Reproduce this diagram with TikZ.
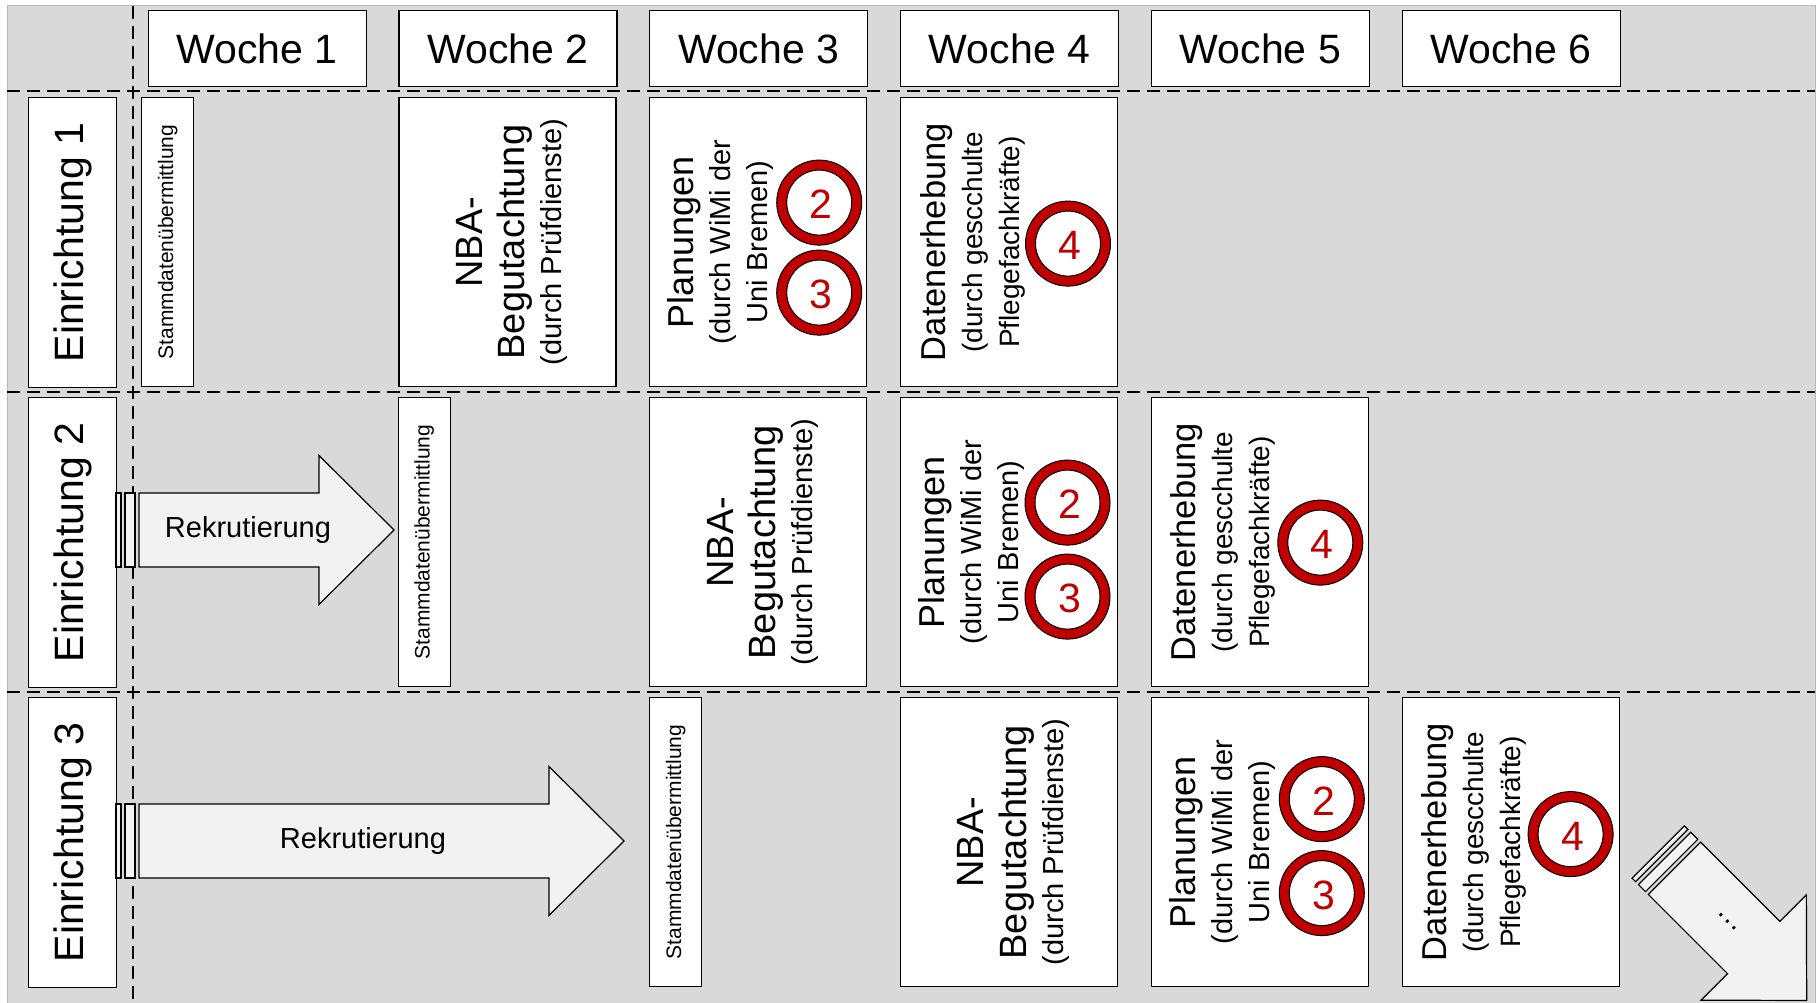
\documentclass[tikz,border=0pt]{standalone}
\usepackage{fontspec}
\setmainfont{Liberation Sans}
\usetikzlibrary{calc}

\definecolor{hintergrund}{HTML}{D9D9D9}
\definecolor{pfeilgrau}{HTML}{F2F2F2}
\definecolor{ringrot}{HTML}{C00000}

\newcommand{\schrift}[1]{\fontsize{#1}{37}\selectfont}

\tikzset{
  kasten/.style={draw, line width=1.2pt, fill=white, inner sep=0pt, anchor=north west},
  aufgabe/.style={kasten, minimum width=217pt, minimum height=289pt},
  schmal/.style={kasten, minimum width=52pt, minimum height=289pt},
  trenner/.style={line width=1.5pt, dash pattern=on 13pt off 7pt},
  pfeilform/.style={draw, line width=1.2pt, fill=pfeilgrau},
  beschriftung/.style={rotate=90, align=center, inner sep=0pt, font=\schrift{29}},
}

% Ring mit Nummer: Name, Lage, Zahl
\newcommand{\kreis}[3]{%
  \coordinate (#1) at #2;
  \draw[line width=1pt, fill=ringrot, even odd rule]
    (#1) circle[radius=42.5pt] circle[radius=32.5pt];
  \node[text=ringrot, font=\schrift{41}, inner sep=0pt] (#1zahl)
    at ([shift={(2,2)}]#1) {#3};}

% Blockpfeil: Name, Start, Drehung, Laenge, Text
\newcommand{\rekpfeil}[5]{%
  \begin{scope}[shift={#2}, rotate=#3]
    \draw[pfeilform] (0,-37) rectangle (5,37);
    \draw[pfeilform] (9,-37) rectangle (19,37);
    \draw[pfeilform] (23,-37) -- ({#4-75},-37) -- ({#4-75},-74.5) -- (#4,0)
      -- ({#4-75},74.5) -- ({#4-75},37) -- (23,37) -- cycle;
    \node[font=\schrift{29}, rotate=#3, inner sep=0pt] (#1) at ({#4/2-7},0) {#5};
  \end{scope}}

\begin{document}
\begin{tikzpicture}[x=1pt, y=-1pt]
\useasboundingbox (0,0) rectangle (1819,1003);
\fill[white] (0,0) rectangle (1819,1003);
\draw[fill=hintergrund, draw=gray!55, line width=1pt] (7,6) rectangle (1815,1012);

% Trennlinien
\draw[trenner] (133,6) -- (133,1003);
\foreach \y in {91,392,692}
  \draw[trenner] (7,\y) -- (1815,\y);

% Kopfzeile
\foreach \w in {1,...,6}
  \node[kasten, minimum width=218pt, minimum height=76pt, font=\schrift{41}]
    (woche\w) at ({147.5+250.8*(\w-1)},10) {Woche \w};

% Einrichtungen
\foreach \e in {1,2,3} {
  \node[kasten, minimum width=88pt, minimum height=290pt] (einr\e) at (28,{97+300*(\e-1)}) {};
  \node[beschriftung, font=\schrift{41}] (einrtext\e) at (einr\e.center) {Einrichtung \e};
}

% Stammdaten
\node[schmal] (stamm1) at (141,97) {};
\node[schmal] (stamm2) at (397.5,397) {};
\node[schmal] (stamm3) at (649,697) {};

% NBA, Planungen, Datenerhebung
\node[aufgabe] (nba1) at (398.3,97) {};
\node[aufgabe] (nba2) at (649.1,397) {};
\node[aufgabe] (nba3) at (899.9,697) {};
\node[aufgabe] (plan1) at (649.1,97) {};
\node[aufgabe] (plan2) at (899.9,397) {};
\node[aufgabe] (plan3) at (1150.7,697) {};
\node[aufgabe] (daten1) at (899.9,97) {};
\node[aufgabe] (daten2) at (1150.7,397) {};
\node[aufgabe] (daten3) at (1401.5,697) {};

\foreach \n in {1,2,3} {
  \node[beschriftung, font=\schrift{21}] (stammtext\n) at (stamm\n.center) {Stammdatenübermittlung};
  \node[beschriftung] (nbatext\n) at ([xshift=4.5pt]nba\n.center)
    {\schrift{38}NBA-\\[5.5pt]\schrift{38}Begutachtung\\\schrift{29}(durch Prüfdienste)};
  \node[beschriftung] (plantext\n) at ([xshift=-37.5pt]plan\n.center)
    {\schrift{36}Planungen\\\schrift{29}(durch WiMi der\\\schrift{29}Uni Bremen)};
  \node[beschriftung] (datentext\n) at ([xshift=-36.5pt]daten\n.center)
    {\schrift{34.5}Datenerhebung\\\schrift{28}(durch gescchulte\\\schrift{28}Pflegefachkräfte)};
}

% Ringe
\kreis{ring2a}{($(plan1.center)+(61,-39.5)$)}{2}
\kreis{ring3a}{($(plan1.center)+(61,50.5)$)}{3}
\kreis{ring4a}{($(daten1.center)+(59,1.5)$)}{4}
\kreis{ring2b}{($(plan2.center)+(58.5,-39.5)$)}{2}
\kreis{ring3b}{($(plan2.center)+(58.5,54.5)$)}{3}
\kreis{ring4b}{($(daten2.center)+(60.5,0.5)$)}{4}
\kreis{ring2c}{($(plan3.center)+(62,-43)$)}{2}
\kreis{ring3c}{($(plan3.center)+(62,51)$)}{3}
\kreis{ring4c}{($(daten3.center)+(60,-8)$)}{4}

% Rekrutierung
\rekpfeil{rek2}{(116,530)}{0}{278}{Rekrutierung}
\rekpfeil{rek3}{(116,841)}{0}{508}{Rekrutierung}
\rekpfeil{weiter}{(1658.2,852)}{-45}{210}{\dots}
\end{tikzpicture}
\end{document}
